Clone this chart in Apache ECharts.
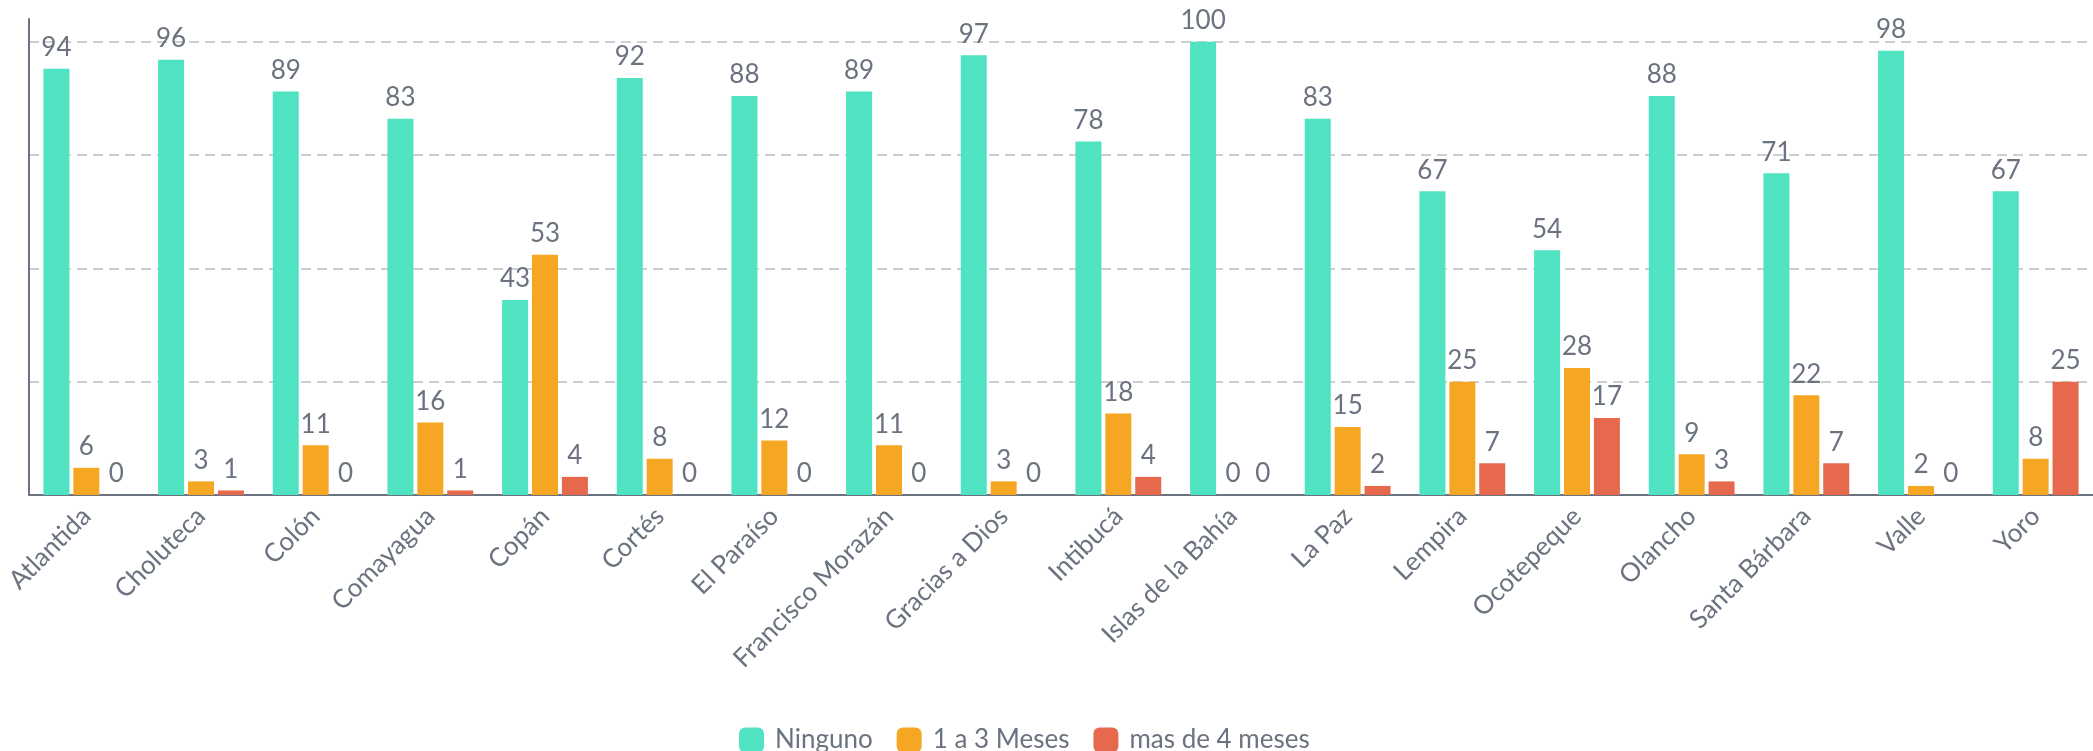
<!DOCTYPE html>
<html>
<head>
<meta charset="utf-8">
<script src="https://cdn.jsdelivr.net/npm/echarts@6/dist/echarts.min.js"></script>
<style>
html,body{margin:0;padding:0;background:#fff;}
#chart{width:2093px;height:751px;}
</style>
</head>
<body>
<div id="chart"></div>
<script>
const categories = ['Atlantida','Choluteca','Colón','Comayagua','Copán','Cortés','El Paraíso','Francisco Morazán','Gracias a Dios','Intibucá','Islas de la Bahía','La Paz','Lempira','Ocotepeque','Olancho','Santa Bárbara','Valle','Yoro'];
const ninguno = [94,96,89,83,43,92,88,89,97,78,100,83,67,54,88,71,98,67];
const unoATres = [6,3,11,16,53,8,12,11,3,18,0,15,25,28,9,22,2,8];
const masDeCuatro = [0,1,0,1,4,0,0,0,0,4,0,2,7,17,3,7,0,25];
const seriesNames = ['Ninguno','1 a 3 Meses','mas de 4 meses'];

const textColor = '#6b7380';
const font = 'Lato, "Noto Sans", sans-serif';
const colors = ['#50e3c2','#f5a623','#e6694e'];

const chart = echarts.init(document.getElementById('chart'));
function mk(name, data, color){
  return {
    name, type:'bar', data,
    barWidth: 26, barGap: '15%',
    itemStyle:{color},
    label:{show:true, position:'top', distance:8, color:textColor, fontFamily:font, fontSize:26}
  };
}
chart.setOption({
  animation:false,
  color: colors,
  grid:{left:29, right:-10, top:19, bottom:256, containLabel:false},
  legend:{
    top:722, left:734, itemWidth:25, itemHeight:25, itemGap:24,
    icon:'roundRect',
    textStyle:{color:textColor, fontFamily:font, fontSize:26, padding:[0,0,0,6]},
    data: seriesNames
  },
  xAxis:{
    type:'category', data:categories,
    axisLine:{show:true, lineStyle:{color:textColor, width:2}},
    axisTick:{show:false},
    axisLabel:{rotate:45, interval:0, color:textColor, fontFamily:font, fontSize:26, margin:17}
  },
  yAxis:{
    type:'value', min:0, max:105, interval:25,
    axisLine:{show:true, lineStyle:{color:textColor, width:2}},
    axisTick:{show:false},
    axisLabel:{show:false},
    splitLine:{show:true, showMaxLine:false, lineStyle:{color:'#bfc0c4', type:[10,6], width:1.5}}
  },
  series:[
    mk(seriesNames[0], ninguno, colors[0]),
    mk(seriesNames[1], unoATres, colors[1]),
    mk(seriesNames[2], masDeCuatro, colors[2])
  ]
});
</script>
</body>
</html>
